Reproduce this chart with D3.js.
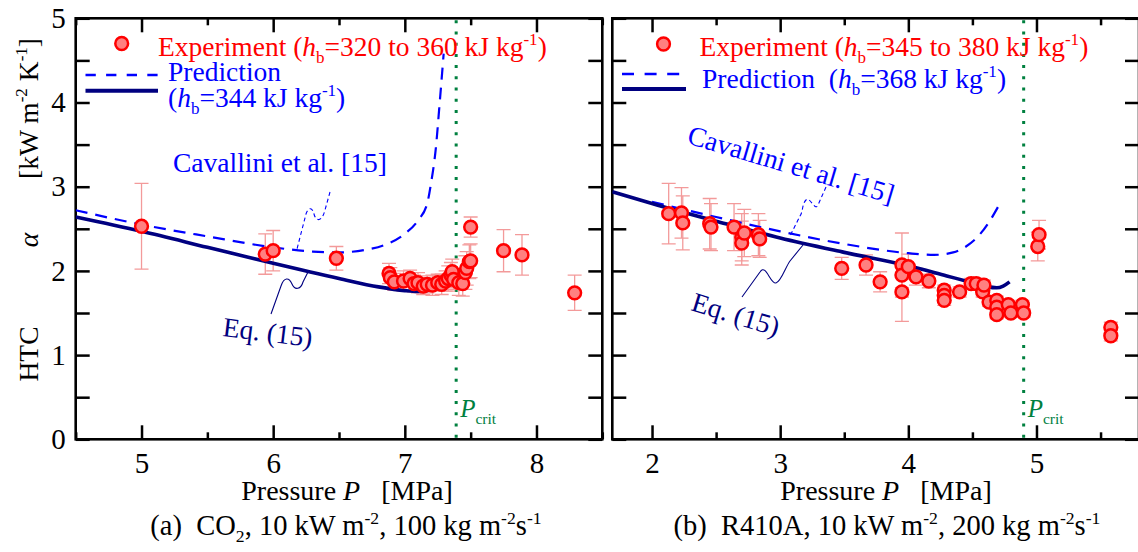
<!DOCTYPE html>
<html>
<head>
<meta charset="utf-8">
<script src="https://cdn.jsdelivr.net/npm/d3@7"></script>
<style>
  html, body { margin: 0; padding: 0; background: #fff; }
  svg { display: block; font-family: "Liberation Serif", "Times New Roman", serif; }
  text { white-space: pre; font-family: "Liberation Serif", "Times New Roman", serif; }
</style>
</head>
<body>
<svg id="chart" width="1138" height="552"></svg>
<script>
// ---------- data ----------
const htcTicks = [0, 1, 2, 3, 4, 5];

// (a) CO2
const co2Ticks = [5, 6, 7, 8];
const co2ExpP   = [5.00, 5.94, 6.00, 6.48, 6.88, 6.89, 6.92, 6.99, 7.04, 7.07, 7.10, 7.14, 7.17, 7.21, 7.25, 7.28, 7.31, 7.33, 7.35, 7.36, 7.37, 7.41, 7.44, 7.46, 7.47, 7.49, 7.50, 7.50, 7.75, 7.89, 8.29];
const co2ExpHTC = [2.53, 2.20, 2.24, 2.15, 1.97, 1.92, 1.87, 1.88, 1.91, 1.85, 1.86, 1.82, 1.84, 1.83, 1.86, 1.84, 1.88, 1.91, 1.95, 1.99, 1.90, 1.86, 1.85, 1.98, 2.03, 2.11, 2.12, 2.52, 2.24, 2.19, 1.74];
const co2ExpErr = [0.51, 0.24, 0.24, 0.14, 0.12, 0.12, 0.10, 0.12, 0.10, 0.10, 0.12, 0.10, 0.10, 0.12, 0.10, 0.12, 0.12, 0.15, 0.15, 0.15, 0.12, 0.15, 0.15, 0.20, 0.20, 0.20, 0.20, 0.12, 0.25, 0.24, 0.21];
const co2EqP    = [4.50, 5.00, 5.50, 6.00, 6.50, 6.80, 7.00, 7.10, 7.18, 7.24, 7.28];
const co2EqHTC  = [2.64, 2.47, 2.28, 2.09, 1.91, 1.81, 1.765, 1.755, 1.77, 1.81, 1.88];
const co2CavP   = [4.50, 5.00, 5.50, 6.00, 6.30, 6.50, 6.70, 6.85, 7.00, 7.10, 7.17, 7.20, 7.235, 7.265, 7.295];
const co2CavHTC = [2.72, 2.55, 2.41, 2.28, 2.23, 2.22, 2.25, 2.31, 2.44, 2.60, 2.80, 3.05, 3.45, 4.00, 4.58];
const co2Pcrit  = 7.39;

// (b) R410A
const r410aTicks = [2, 3, 4, 5];
const r410aExpP   = [2.13, 2.23, 2.24, 2.45, 2.46, 2.64, 2.70, 2.70, 2.72, 2.83, 2.84, 3.48, 3.67, 3.78, 3.95, 3.95, 3.95, 4.00, 4.06, 4.16, 4.28, 4.28, 4.28, 4.40, 4.49, 4.53, 4.58, 4.59, 4.63, 4.69, 4.69, 4.69, 4.78, 4.80, 4.89, 4.90, 5.01, 5.02, 5.58, 5.58];
const r410aExpHTC = [2.68, 2.69, 2.57, 2.56, 2.52, 2.52, 2.40, 2.33, 2.45, 2.43, 2.38, 2.03, 2.07, 1.87, 2.07, 1.95, 1.75, 2.05, 1.93, 1.88, 1.77, 1.71, 1.65, 1.75, 1.85, 1.85, 1.75, 1.83, 1.63, 1.65, 1.57, 1.48, 1.60, 1.50, 1.60, 1.50, 2.29, 2.43, 1.33, 1.23];
const r410aExpErr = [0.36, 0.30, 0.32, 0.30, 0.28, 0.28, 0.28, 0.26, 0.28, 0.25, 0.22, 0.13, 0.12, 0.12, 0.38, 0.15, 0.35, 0.15, 0.10, 0.08, 0.06, 0.06, 0.06, 0.06, 0.06, 0.06, 0.06, 0.06, 0.05, 0.05, 0.05, 0.05, 0.05, 0.05, 0.05, 0.05, 0.17, 0.17, 0.06, 0.06];
const r410aEqP    = [1.69, 2.00, 2.50, 3.00, 3.50, 4.00, 4.30, 4.50, 4.62, 4.69, 4.74, 4.79];
const r410aEqHTC  = [2.94, 2.80, 2.59, 2.39, 2.22, 2.06, 1.94, 1.86, 1.81, 1.80, 1.82, 1.87];
const r410aCavP   = [2.00, 2.50, 3.00, 3.50, 4.00, 4.20, 4.35, 4.45, 4.55, 4.63, 4.70];
const r410aCavHTC = [2.82, 2.64, 2.47, 2.32, 2.21, 2.19, 2.22, 2.29, 2.42, 2.58, 2.76];
const r410aPcrit  = 4.90;

// ---------- styles ----------
const RED = "#ff0000", PINK = "#ff8080", ERR = "#f39a9a";
const BLUE = "#0000ff", NAVY = "#000080", GREEN = "#00803f";
const FS = 27.5;
const SERIF = "Liberation Serif";

const svg = d3.select("#chart");
const yScale = d3.scaleLinear().domain([0, 5]).range([439.3, 18.3]);

// rich text: parts with italic / sub / sup runs
function rich(sel, parts, size) {
  let shift = 0;
  parts.forEach(p => {
    const ts = sel.append("tspan").text(p.t);
    let target = 0, fs = size;
    if (p.sup) { target = -0.40 * size; fs = 0.62 * size; }
    if (p.sub) { target = 0.26 * size; fs = 0.62 * size; }
    ts.attr("font-size", fs);
    if (target !== shift) { ts.attr("dy", target - shift); shift = target; }
    if (p.it) ts.attr("font-style", "italic");
    if (p.dx) ts.attr("dx", p.dx);
  });
  return sel;
}

function drawPanel(cfg) {
  const g = svg.append("g");
  const x = d3.scaleLinear().domain(cfg.domain).range(cfg.range);
  const y = yScale;
  const [x0, x1] = cfg.range;
  const clipId = "clip-" + cfg.id;
  svg.append("clipPath").attr("id", clipId)
    .append("rect").attr("x", x0).attr("y", y(5)).attr("width", x1 - x0).attr("height", y(0) - y(5));

  // ticks
  const halves = d3.range(Math.ceil(cfg.domain[0] * 2) / 2, cfg.domain[1] + 1e-9, 0.5);
  const minors = halves.filter(v => !cfg.ticks.includes(v));
  const styleAxis = a => {
    a.attr("font-family", SERIF);
    a.select(".domain").remove();
    a.selectAll(".tick line").attr("stroke", "#000").attr("stroke-width", 2.5);
    a.selectAll(".tick text").attr("font-size", 29).attr("font-family", SERIF).attr("fill", "#000");
  };
  g.append("g").attr("transform", `translate(0,${y(0)})`)
    .call(d3.axisBottom(x).tickValues(cfg.ticks).tickSizeInner(-14).tickSizeOuter(0).tickPadding(13).tickFormat(d3.format("d")))
    .call(styleAxis);
  g.append("g").attr("transform", `translate(0,${y(0)})`)
    .call(d3.axisBottom(x).tickValues(minors).tickSizeInner(-7).tickSizeOuter(0).tickFormat(""))
    .call(styleAxis);
  g.append("g").attr("transform", `translate(0,${y(5)})`)
    .call(d3.axisTop(x).tickValues(cfg.ticks).tickSizeInner(-14).tickSizeOuter(0).tickFormat(""))
    .call(styleAxis);
  g.append("g").attr("transform", `translate(0,${y(5)})`)
    .call(d3.axisTop(x).tickValues(minors).tickSizeInner(-7).tickSizeOuter(0).tickFormat(""))
    .call(styleAxis);
  const yHalves = d3.range(0, 5.01, 0.5);
  g.append("g").attr("transform", `translate(${x0},0)`)
    .call(d3.axisLeft(y).tickValues(yHalves).tickSizeInner(-14).tickSizeOuter(0).tickPadding(10)
      .tickFormat(d => (cfg.yLabels && htcTicks.includes(d)) ? d3.format("d")(d) : ""))
    .call(styleAxis);
  g.append("g").attr("transform", `translate(${x1},0)`)
    .call(d3.axisRight(y).tickValues(yHalves).tickSizeInner(-14).tickSizeOuter(0).tickFormat(""))
    .call(styleAxis);

  // frame
  g.append("rect").attr("x", x0).attr("y", y(5)).attr("width", x1 - x0).attr("height", y(0) - y(5))
    .attr("fill", "none").attr("stroke", "#000").attr("stroke-width", 2.6);

  // critical pressure
  g.append("line").attr("x1", x(cfg.pcrit)).attr("x2", x(cfg.pcrit)).attr("y1", y(5) + 2).attr("y2", y(0))
    .attr("stroke", GREEN).attr("stroke-width", 3).attr("stroke-dasharray", "3,8.2");
  const pc = g.append("text").attr("x", x(cfg.pcrit) + 4).attr("y", 417).attr("fill", GREEN);
  rich(pc, [{ t: "P", it: true }, { t: "crit", sub: true }], 25);

  const plot = g.append("g").attr("clip-path", `url(#${clipId})`);
  const exp = cfg.expP.map((p, i) => ({ p, v: cfg.expHTC[i], e: cfg.expErr[i] }));

  // error bars
  const eb = plot.append("g").attr("stroke", ERR).attr("stroke-width", 1.3).attr("fill", "none");
  exp.forEach(d => {
    const cx = x(d.p), yt = y(d.v + d.e), yb = y(d.v - d.e);
    eb.append("path").attr("d", `M${cx},${yt}V${yb}M${cx - 7},${yt}H${cx + 7}M${cx - 7},${yb}H${cx + 7}`);
  });

  // correlations
  const line = d3.line().x(d => x(d[0])).y(d => y(d[1])).curve(d3.curveMonotoneX);
  plot.append("path").datum(d3.zip(cfg.cavP, cfg.cavHTC)).attr("d", line)
    .attr("fill", "none").attr("stroke", BLUE).attr("stroke-width", 2.2).attr("stroke-dasharray", "12,8");
  plot.append("path").datum(d3.zip(cfg.eqP, cfg.eqHTC)).attr("d", line)
    .attr("fill", "none").attr("stroke", NAVY).attr("stroke-width", 3.6);

  // experimental points
  plot.append("g").selectAll("circle").data(exp).join("circle")
    .attr("cx", d => x(d.p)).attr("cy", d => y(d.v)).attr("r", 6.4)
    .attr("fill", PINK).attr("stroke", RED).attr("stroke-width", 2.5);

  return { g, x };
}

// ---------- panel (a) ----------
drawPanel({
  id: "a", domain: [4.5, 8.5], range: [75.7, 602.3], ticks: co2Ticks, yLabels: true,
  expP: co2ExpP, expHTC: co2ExpHTC, expErr: co2ExpErr,
  eqP: co2EqP, eqHTC: co2EqHTC, cavP: co2CavP, cavHTC: co2CavHTC, pcrit: co2Pcrit
});

// ---------- panel (b) ----------
drawPanel({
  id: "b", domain: [1.69, 5.8], range: [612.3, 1139.0], ticks: r410aTicks, yLabels: false,
  expP: r410aExpP, expHTC: r410aExpHTC, expErr: r410aExpErr,
  eqP: r410aEqP, eqHTC: r410aEqHTC, cavP: r410aCavP, cavHTC: r410aCavHTC, pcrit: r410aPcrit
});

// ---------- legends ----------
function legendMarker(cx, cy) {
  svg.append("circle").attr("cx", cx).attr("cy", cy).attr("r", 6.4)
    .attr("fill", PINK).attr("stroke", RED).attr("stroke-width", 2.5);
}
function legendLine(xa, xb, yy, dashed, dash) {
  svg.append("line").attr("x1", xa).attr("x2", xb).attr("y1", yy).attr("y2", yy)
    .attr("stroke", dashed ? BLUE : NAVY).attr("stroke-width", dashed ? 2.4 : 4)
    .attr("stroke-dasharray", dashed ? dash : null);
}

legendMarker(121.7, 43.5);
rich(svg.append("text").attr("x", 158).attr("y", 56).attr("fill", RED),
  [{ t: "Experiment (" }, { t: "h", it: true }, { t: "b", sub: true }, { t: "=320 to 360 kJ kg" }, { t: "-1", sup: true }, { t: ")" }], FS);
legendLine(85.5, 158, 75, true, "10.3,10.3");
legendLine(85.5, 158, 90.7, false);
rich(svg.append("text").attr("x", 168).attr("y", 81).attr("fill", BLUE), [{ t: "Prediction" }], FS);
rich(svg.append("text").attr("x", 168).attr("y", 107).attr("fill", BLUE),
  [{ t: "(" }, { t: "h", it: true }, { t: "b", sub: true }, { t: "=344 kJ kg" }, { t: "-1", sup: true }, { t: ")" }], FS);

legendMarker(663.5, 44);
rich(svg.append("text").attr("x", 699.5).attr("y", 56).attr("fill", RED),
  [{ t: "Experiment (" }, { t: "h", it: true }, { t: "b", sub: true }, { t: "=345 to 380 kJ kg" }, { t: "-1", sup: true }, { t: ")" }], FS);
legendLine(622, 686, 74, true, "12,10.6");
legendLine(622, 686, 89, false);
rich(svg.append("text").attr("x", 702).attr("y", 88).attr("fill", BLUE),
  [{ t: "Prediction  (" }, { t: "h", it: true }, { t: "b", sub: true }, { t: "=368 kJ kg" }, { t: "-1", sup: true }, { t: ")" }], FS);

// ---------- annotations ----------
svg.append("text").attr("x", 173).attr("y", 172).attr("fill", BLUE).attr("font-size", FS).text("Cavallini et al. [15]");
svg.append("path").attr("d", "M330,192 L325,210 C322,222 316,222 314,214 C312,206 308,208 306,214 L297,249")
  .attr("fill", "none").attr("stroke", BLUE).attr("stroke-width", 1.1).attr("stroke-dasharray", "4,3");
svg.append("text").attr("transform", "translate(222,336) rotate(7)").attr("fill", NAVY).attr("font-size", FS).text("Eq. (15)");
svg.append("path").attr("d", "M271,314 L281,286 C284,277 289,277 292,284 C295,291 301,289 303,282 L308,272")
  .attr("fill", "none").attr("stroke", NAVY).attr("stroke-width", 1.1);

svg.append("text").attr("transform", "translate(686,143) rotate(16.5)").attr("fill", BLUE).attr("font-size", FS).text("Cavallini et al. [15]");
svg.append("path").attr("d", "M826,187 L818,205 C815,212 810,196 806,200 C802,204 803,212 800,216 L790,236")
  .attr("fill", "none").attr("stroke", BLUE).attr("stroke-width", 1.1).attr("stroke-dasharray", "4,3");
svg.append("text").attr("transform", "translate(690,310) rotate(17)").attr("fill", NAVY).attr("font-size", FS).text("Eq. (15)");
svg.append("path").attr("d", "M742,297 L760,272 C766,263 770,284 776,283 C781,282 786,266 790,261 L803,245")
  .attr("fill", "none").attr("stroke", NAVY).attr("stroke-width", 1.1);

// ---------- axis titles & captions ----------
svg.append("text").attr("transform", "translate(38,354) rotate(-90)").attr("text-anchor", "middle").attr("font-size", FS).text("HTC");
svg.append("text").attr("transform", "translate(38,240) rotate(-90)").attr("text-anchor", "middle").attr("font-size", FS).attr("font-style", "italic").text("α");
rich(svg.append("text").attr("transform", "translate(38,38) rotate(-90)").attr("text-anchor", "end"),
  [{ t: "[kW m" }, { t: "-2", sup: true }, { t: " K" }, { t: "-1", sup: true }, { t: "]" }], FS);

function xTitle(cx) {
  rich(svg.append("text").attr("x", cx).attr("y", 500).attr("text-anchor", "middle"),
    [{ t: "Pressure " }, { t: "P", it: true }, { t: "   [MPa]" }], 28);
}
xTitle(347); xTitle(886);

rich(svg.append("text").attr("x", 346).attr("y", 535).attr("text-anchor", "middle"),
  [{ t: "(a)  CO" }, { t: "2" , sub: true }, { t: ", 10 kW m" }, { t: "-2", sup: true }, { t: ", 100 kg m" }, { t: "-2", sup: true }, { t: "s" }, { t: "-1", sup: true }], 28.5);
rich(svg.append("text").attr("x", 887).attr("y", 535).attr("text-anchor", "middle"),
  [{ t: "(b)  R410A, 10 kW m" }, { t: "-2", sup: true }, { t: ", 200 kg m" }, { t: "-2", sup: true }, { t: "s" }, { t: "-1", sup: true }], 28.5);
</script>
</body>
</html>
